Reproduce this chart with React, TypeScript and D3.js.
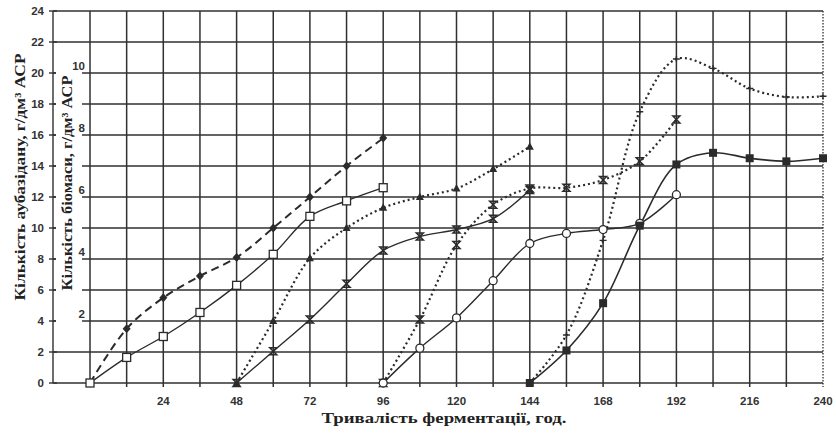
import * as d3 from 'd3';

// fermentation time, h
const hoursA = [0, 12, 24, 36, 48, 60, 72, 84, 96];
const hoursB = [48, 60, 72, 84, 96, 108, 120, 132, 144];
const hoursC = [96, 108, 120, 132, 144, 156, 168, 180, 192];
const hoursD = [144, 156, 168, 180, 192, 204, 216, 228, 240];

// values (left axis units)
const dashDiamond = [0, 3.5, 5.5, 6.9, 8.1, 10.0, 12.0, 14.0, 15.8];
const solidSquareOpen = [0, 1.65, 3.0, 4.55, 6.3, 8.3, 10.75, 11.75, 12.6];
const dotTriangle = [0, 4.0, 8.05, 10.0, 11.3, 12.0, 12.55, 13.8, 15.25];
const solidCross = [0, 2.05, 4.1, 6.4, 8.55, 9.45, 9.9, 10.6, 12.45];
const dotCross = [0, 4.1, 8.9, 11.5, 12.55, 12.6, 13.1, 14.3, 17.0];
const solidCircle = [0, 2.25, 4.2, 6.6, 9.0, 9.65, 9.9, 10.3, 12.15];
const solidSquare = [0, 2.1, 5.15, 10.15, 14.1, 14.85, 14.5, 14.3, 14.5];
const dotPlus = [0, 3.1, 9.2, 17.5, 20.9, 20.3, 19.0, 18.45, 18.5];

const xTicks = [24, 48, 72, 96, 120, 144, 168, 192, 216, 240];
const yTicks = [0, 2, 4, 6, 8, 10, 12, 14, 16, 18, 20, 22, 24];
const biomassTicks = [2, 4, 6, 8, 10];

const xTitle = 'Тривалість ферментації, год.';
const yTitle = 'Кількість аубазідану, г/дм³ АСР';
const y2Title = 'Кількість біомаси, г/дм³ АСР';

const W = 836;
const H = 433;
const ink = '#2b2b2b';

type Marker = 'diamond' | 'squareOpen' | 'triangle' | 'cross' | 'circleOpen' | 'square' | 'plus';

const series: { xs: number[]; ys: number[]; dash: string | null; width: number; marker: Marker }[] = [
  { xs: hoursA, ys: dashDiamond, dash: '8,5', width: 2, marker: 'diamond' },
  { xs: hoursA, ys: solidSquareOpen, dash: null, width: 1.4, marker: 'squareOpen' },
  { xs: hoursB, ys: dotTriangle, dash: '2,3', width: 2.2, marker: 'triangle' },
  { xs: hoursB, ys: solidCross, dash: null, width: 1.4, marker: 'cross' },
  { xs: hoursC, ys: dotCross, dash: '2,3', width: 2.2, marker: 'cross' },
  { xs: hoursC, ys: solidCircle, dash: null, width: 1.4, marker: 'circleOpen' },
  { xs: hoursD, ys: solidSquare, dash: null, width: 1.6, marker: 'square' },
  { xs: hoursD, ys: dotPlus, dash: '2,3', width: 2.2, marker: 'plus' },
];

function drawMarker(kind: Marker, cx: number, cy: number, key: string) {
  switch (kind) {
    case 'diamond':
      return <path key={key} d={`M${cx},${cy - 4.5}L${cx + 4},${cy}L${cx},${cy + 4.5}L${cx - 4},${cy}Z`} fill={ink} />;
    case 'squareOpen':
      return <rect key={key} x={cx - 4} y={cy - 4} width={8} height={8} fill="#fff" stroke={ink} strokeWidth={1.3} />;
    case 'triangle':
      return <path key={key} d={`M${cx},${cy - 4.5}L${cx + 4},${cy + 3}L${cx - 4},${cy + 3}Z`} fill={ink} />;
    case 'cross':
      return (
        <path key={key} d={`M${cx - 3.5},${cy - 3.5}H${cx + 3.5}L${cx - 3.5},${cy + 3.5}H${cx + 3.5}Z`}
          fill="none" stroke={ink} strokeWidth={1.5} />
      );
    case 'circleOpen':
      return <circle key={key} cx={cx} cy={cy} r={4} fill="#fff" stroke={ink} strokeWidth={1.3} />;
    case 'square':
      return <rect key={key} x={cx - 4} y={cy - 4} width={8} height={8} fill={ink} />;
    case 'plus':
      return <path key={key} d={`M${cx - 3.5},${cy}H${cx + 3.5}M${cx},${cy - 3}V${cy + 3}`} fill="none" stroke={ink} strokeWidth={1.4} />;
  }
}

export default function App() {
  const x = d3.scaleLinear().domain([0, 240]).range([90, 823]);
  const y = d3.scaleLinear().domain([0, 24]).range([383, 11]);
  const axisX = 53;

  const line = d3
    .line<[number, number]>()
    .x((d) => x(d[0]))
    .y((d) => y(d[1]))
    .curve(d3.curveCatmullRom.alpha(0.5));

  const gridHours = d3.range(0, 240, 12);

  return (
    <svg width={W} height={H} style={{ position: 'absolute', left: 0, top: 0 }}>
      {/* grid */}
      {yTicks.map((v) => (
        <line key={`h${v}`} x1={axisX} x2={x(240)} y1={y(v)} y2={y(v)} stroke="#303030" strokeWidth={1.5} />
      ))}
      {gridHours.map((h) => (
        <line key={`v${h}`} x1={x(h)} x2={x(h)} y1={y(24)} y2={y(0) + 4} stroke="#303030" strokeWidth={1.5} />
      ))}
      <line x1={x(240)} x2={x(240)} y1={y(24)} y2={y(0) + 4} stroke="#303030" strokeWidth={1.3} strokeDasharray="1.5,1.5" />

      {/* left axis */}
      <line x1={axisX} x2={axisX} y1={y(24)} y2={y(0)} stroke="#303030" strokeWidth={1.4} />
      {yTicks.map((v) => (
        <line key={`yk${v}`} x1={axisX - 4} x2={axisX + 4} y1={y(v)} y2={y(v)} stroke="#303030" strokeWidth={1.4} />
      ))}
      {yTicks.map((v) => (
        <text key={`yt${v}`} x={axisX - 9} y={y(v) + 4} textAnchor="end" fontFamily="Liberation Sans, Arial, sans-serif"
          fontSize={11.5} fontWeight="bold" fill="#333">{v}</text>
      ))}

      {/* biomass axis label box */}
      <rect x={axisX + 3} y={y(21.2)} width={26} height={y(3) - y(21.2) + 10} fill="#fff" />
      {biomassTicks.map((b) => (
        <text key={`b${b}`} x={85} y={y(b * 2) - 3} textAnchor="end" fontFamily="Liberation Sans, Arial, sans-serif"
          fontSize={11.5} fontWeight="bold" fill="#333">{b}</text>
      ))}

      {/* x tick labels */}
      {xTicks.map((h) => (
        <text key={`xt${h}`} x={x(h)} y={405} textAnchor="middle" fontFamily="Liberation Sans, Arial, sans-serif"
          fontSize={11.5} fontWeight="bold" fill="#333">{h}</text>
      ))}

      {/* titles */}
      <text x={444} y={423} textAnchor="middle" fontFamily="Liberation Serif, DejaVu Serif, serif"
        fontSize={15} fontWeight="bold" fill="#222" textLength={245} lengthAdjust="spacingAndGlyphs">{xTitle}</text>
      <text transform="translate(25,177) rotate(-90)" textAnchor="middle" fontFamily="Liberation Serif, DejaVu Serif, serif"
        fontSize={14} fontWeight="bold" fill="#222" textLength={247} lengthAdjust="spacingAndGlyphs">{yTitle}</text>
      <text transform="translate(72,183) rotate(-90)" textAnchor="middle" fontFamily="Liberation Serif, DejaVu Serif, serif"
        fontSize={14} fontWeight="bold" fill="#222" textLength={215} lengthAdjust="spacingAndGlyphs">{y2Title}</text>

      {/* series */}
      {series.map((s, i) => (
        <path key={`l${i}`} d={line(s.xs.map((h, j) => [h, s.ys[j]] as [number, number])) || ''} fill="none"
          stroke={ink} strokeWidth={s.width} strokeDasharray={s.dash || undefined} />
      ))}
      {series.map((s, i) => (
        <g key={`m${i}`}>{s.xs.map((h, j) => drawMarker(s.marker, x(h), y(s.ys[j]), `m${i}-${j}`))}</g>
      ))}
    </svg>
  );
}
